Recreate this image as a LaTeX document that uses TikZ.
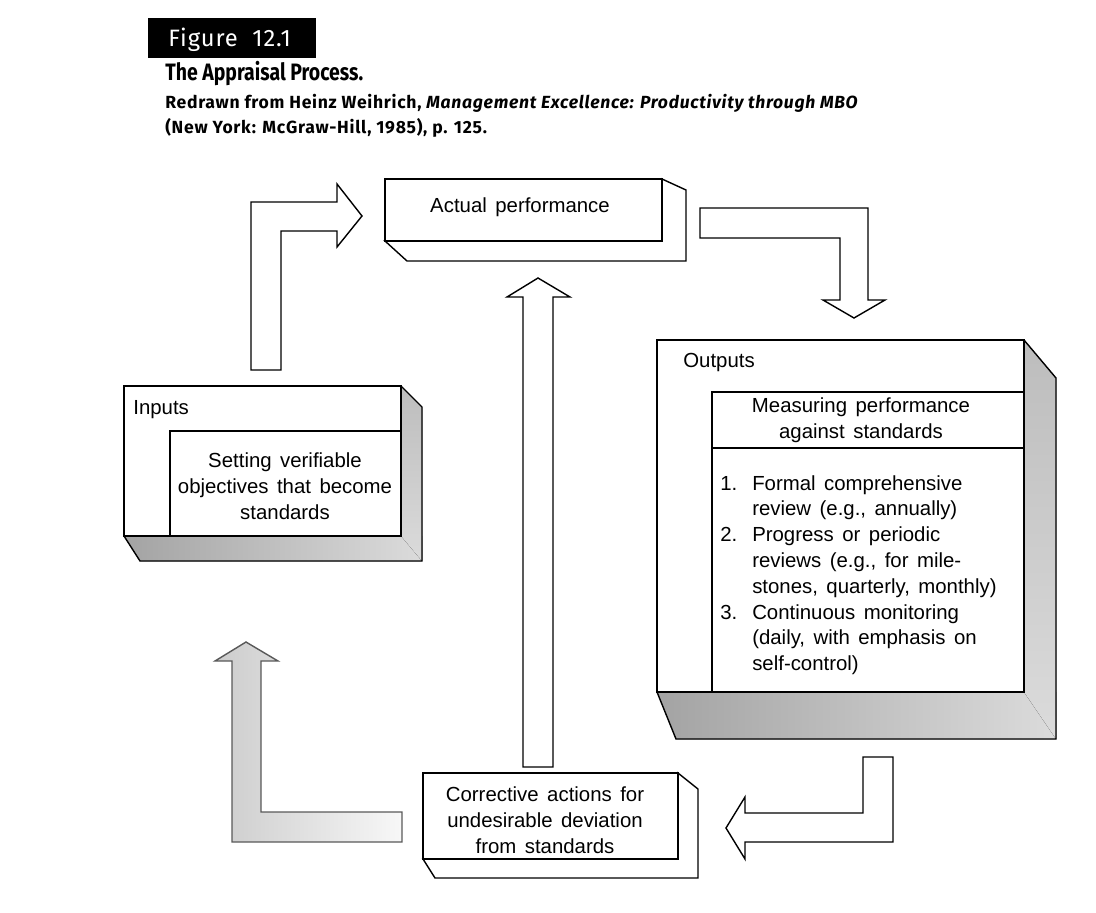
\documentclass[tikz,border=0pt]{standalone}
\usepackage{fontspec}
\usepackage{tikz}
\usetikzlibrary{positioning}
\newfontfamily\diagfont{Liberation Sans}[WordSpace=1.5]
\newfontfamily\capfont{Fira Sans}[LetterSpace=4]
\newfontfamily\titlefont{Fira Sans}[FakeStretch=0.82]

\tikzset{
  face/.style={draw, line width=0.8pt, fill=white},
  bottomdepth/.style={left color=black!36, right color=black!14},
  sidedepth/.style={top color=black!26, bottom color=black!14},
  blockarrow/.style={draw, line width=0.8pt, fill=white, line join=miter},
  txt/.style={font=\diagfont\fontsize{11.6}{14.7}\selectfont, inner sep=0pt, align=center},
}

\begin{document}
\begin{tikzpicture}[x=0.02cm, y=-0.02cm]
\useasboundingbox (0,0) rectangle (1096,913);

% caption
\fill[black] (148,18) rectangle (316,58);
\node[anchor=base west, inner sep=0pt, text=white, font=\capfont\fontsize{13.5}{16}\selectfont] (fig) at (168,46) {Figure\ \ 12.1};
\node[anchor=base west, inner sep=0pt, font=\titlefont\bfseries\fontsize{13.5}{16}\selectfont] (title) at (165,80) {The Appraisal Process.};
\node[anchor=base west, inner sep=0pt, font=\capfont\bfseries\fontsize{10}{12}\selectfont] (src1) at (165,108) {Redrawn from Heinz Weihrich, \textit{Management Excellence: Productivity through MBO}};
\node[anchor=base west, inner sep=0pt, font=\capfont\bfseries\fontsize{10}{12}\selectfont] (src2) at (165,133) {(New York: McGraw-Hill, 1985), p. 125.};

% actual performance box
\draw[face] (385,241) -- (407,261) -- (686,261) -- (686,190) -- (662,179) -- (662,241) -- cycle;% depth
\draw[face] (385,179) rectangle (662,241);% front
\node[txt] (actual) at (520,207) {Actual\ performance};

% inputs box
\fill[bottomdepth] (124,536) -- (140,561) -- (422,561) -- (422,536) -- cycle;% bottom face
\fill[sidedepth] (401,386) -- (422,407) -- (422,561) -- (401,536) -- cycle;% side face
\draw[line width=0.8pt] (124,536) -- (140,561) -- (422,561) -- (422,407) -- (401,386);
\draw[face] (124,386) rectangle (401,536);% front
\draw[line width=0.8pt] (170,536) -- (170,431) -- (401,431);% inner box
\node[txt, anchor=west] (inputs) at (133,410) {Inputs};
\node[txt] (setting) at (285,486) {Setting verifiable\\objectives that become\\standards};

% outputs box
\fill[bottomdepth] (657,692) -- (676,739) -- (1056,739) -- (1056,692) -- cycle;% bottom face
\fill[sidedepth] (1024,340) -- (1056,378) -- (1056,739) -- (1024,692) -- cycle;% side face
\draw[line width=0.8pt] (657,692) -- (676,739) -- (1056,739) -- (1056,378) -- (1024,340);
\draw[face] (657,340) rectangle (1024,692);% front
\draw[line width=0.8pt] (712,692) -- (712,392) -- (1024,392);% inner box
\draw[line width=0.8pt] (712,448) -- (1024,448);% divider
\node[txt, anchor=west] (outputs) at (683,362) {Outputs};
\node[txt] (measuring) at (861,420) {Measuring performance\\against standards};
\node[txt, align=left, anchor=base west] (list) at (720,490) {\begin{tabular}[t]{@{}l@{\hspace{8.5pt}}l@{}}
1. & Formal comprehensive\\
   & review (e.g., annually)\\
2. & Progress or periodic\\
   & reviews (e.g., for mile-\\
   & stones, quarterly, monthly)\\
3. & Continuous monitoring\\
   & (daily, with emphasis on\\
   & self-control)
\end{tabular}};

% corrective actions box
\draw[face] (423,859) -- (435,878) -- (698,878) -- (698,789) -- (678,773) -- (678,859) -- cycle;% depth
\draw[face] (423,773) rectangle (678,859);% front
\node[txt] (corrective) at (545,820) {Corrective actions for\\undesirable deviation\\from standards};

% block arrows
\draw[blockarrow] (251,370) -- (251,202) -- (337,202) -- (337,184) -- (362,216) -- (337,247) -- (337,231) -- (281,231) -- (281,370) -- cycle;% inputs to actual
\draw[blockarrow] (700,208) -- (868,208) -- (868,300) -- (885,300) -- (854,318) -- (823,300) -- (840,300) -- (840,238) -- (700,238) -- cycle;% actual to outputs
\draw[blockarrow] (863,757) -- (893,757) -- (893,842) -- (745,842) -- (745,859) -- (726,828) -- (745,797) -- (745,813) -- (863,813) -- cycle;% outputs to corrective
\draw[blockarrow] (523,767) -- (523,297) -- (507,297) -- (538,278) -- (570,297) -- (553,297) -- (553,767) -- cycle;% corrective to actual
\draw[blockarrow, draw=black!65, left color=black!20, right color=black!3] (232,842) -- (232,661) -- (215,661) -- (246,642) -- (278,661) -- (261,661) -- (261,812) -- (402,812) -- (402,842) -- cycle;% corrective to inputs

\end{tikzpicture}
\end{document}
